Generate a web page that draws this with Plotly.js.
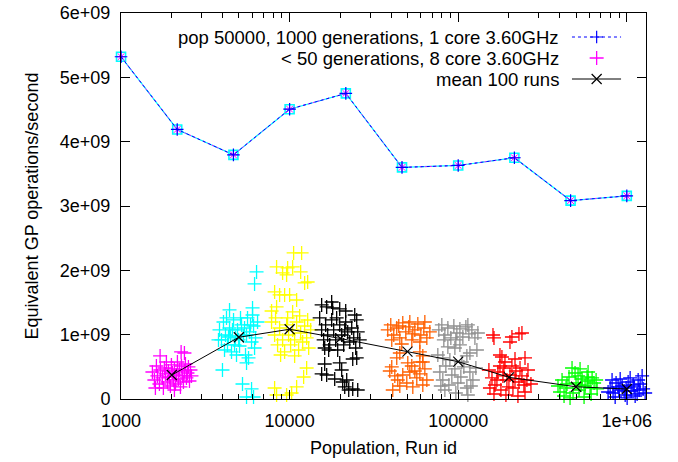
<!DOCTYPE html>
<html><head><meta charset="utf-8">
<script src="https://cdn.plot.ly/plotly-3.0.1.min.js"></script>
<style>html,body{margin:0;padding:0;background:#fff}</style>
</head><body><div id="chart" style="width:678px;height:462px"></div>
<script>
// ---- data ----
const singleCoreX = [1000, 2154, 4642, 10000, 21544, 46416, 100000, 215443, 464159, 1000000];
const singleCoreY = [5.32e9, 4.19e9, 3.795e9, 4.505e9, 4.75e9, 3.60e9, 3.63e9, 3.75e9, 3.084e9, 3.157e9];

const meanX = [2000, 5000, 10000, 20000, 50000, 100000, 200000, 500000, 1000000];
const meanY = [0.373e9, 0.96e9, 1.084e9, 0.94e9, 0.736e9, 0.58e9, 0.337e9, 0.19e9, 0.155e9];

const runs2000X = [1535,1577,1621,1643,1689,1712,1759,1783,1808,1833,1884,1910,1936,1963,1990,2018,2045,2073,2102,2131,2160,2190,2220,2251,2282,2313,2345,2377,2410,2443,2477,2511,2546,2581,2617,1705,2272,2377,1599,1858,2073];
const runs2000Y = [0.42e9,0.295e9,0.513e9,0.358e9,0.233e9,0.451e9,0.327e9,0.171e9,0.482e9,0.389e9,0.264e9,0.435e9,0.342e9,0.202e9,0.529e9,0.404e9,0.295e9,0.467e9,0.233e9,0.373e9,0.575e9,0.311e9,0.451e9,0.187e9,0.513e9,0.358e9,0.264e9,0.435e9,0.544e9,0.327e9,0.404e9,0.498e9,0.28e9,0.451e9,0.358e9,0.669e9,0.731e9,0.715e9,0.171e9,0.575e9,0.14e9];

const runs5000X = [3838,3943,4052,4165,4280,4401,4522,4648,4775,4907,5047,5184,5328,5476,5628,5786,5946,6109,6280,6454,4110,4713,5403,6196,4461,5113,5705,4841,4222,6026,3785,6366,6196,4401,6026,3997,5552,5255,5946,5552,6109,4583,4977,5552,4340,5864];
const runs5000Y = [1.073e9,0.918e9,1.197e9,0.995e9,0.84e9,1.104e9,0.731e9,1.229e9,0.949e9,1.073e9,0.824e9,1.151e9,0.98e9,0.684e9,1.26e9,1.042e9,0.886e9,1.135e9,0.949e9,1.197e9,0.762e9,0.84e9,1.104e9,0.793e9,0.98e9,1.26e9,0.638e9,0.684e9,1.26e9,1.306e9,0.918e9,1.975e9,1.788e9,1.384e9,1.415e9,0.451e9,0.56e9,0.233e9,0.156e9,0.031e9,0.031e9,1.073e9,0.918e9,0.995e9,0.964e9,1.151e9];

const runs10000X = [10563,11782,8369,9085,9730,10418,9598,11626,12279,12794,8146,8723,9340,10000,11005,7815,8369,10418,11467,12794,7815,8146,8484,8723,9085,9340,9598,9863,10137,10418,10710,11005,11310,11626,11947,12279,12619,12972,13332,8841,10710,8256,9730,12619,12111,11005,8146,8369,9598,10277];
const runs10000Y = [2.27e9,2.27e9,2.053e9,1.959e9,2.037e9,2.053e9,1.928e9,1.975e9,1.804e9,1.819e9,1.664e9,1.617e9,1.617e9,1.617e9,1.539e9,1.368e9,1.431e9,1.353e9,1.291e9,1.228e9,1.197e9,0.995e9,0.84e9,1.104e9,0.918e9,0.731e9,1.151e9,0.995e9,0.84e9,1.073e9,0.918e9,1.197e9,0.762e9,1.026e9,0.886e9,1.135e9,0.949e9,0.793e9,1.073e9,0.684e9,0.669e9,1.26e9,1.26e9,0.482e9,0.342e9,0.187e9,0.171e9,0.062e9,0.062e9,0.093e9];

const runs20000X = [17759,15488,16586,18003,19820,21511,24335,25003,15076,15488,15918,16360,16815,17287,17759,18250,18757,19280,19820,20363,20924,21511,22105,22726,23353,24000,24660,25351,26058,17046,19015,21224,16144,16144,19820,23678,25003,15488,16586,18510,20640,21808,21224,23678,25351,20363,22416];
const runs20000Y = [1.508e9,1.462e9,1.431e9,1.415e9,1.4e9,1.368e9,1.306e9,1.229e9,1.26e9,1.073e9,0.918e9,1.151e9,0.995e9,0.84e9,1.229e9,1.073e9,0.918e9,0.762e9,1.151e9,0.995e9,0.84e9,1.197e9,1.042e9,0.886e9,1.104e9,0.949e9,0.793e9,1.042e9,0.918e9,0.762e9,1.26e9,1.073e9,0.793e9,0.544e9,0.56e9,0.622e9,0.638e9,0.389e9,0.373e9,0.311e9,0.264e9,0.295e9,0.187e9,0.156e9,0.14e9,0.451e9,0.14e9];

const runs50000X = [38200,39810,41470,43200,45040,46900,48870,50920,53050,55300,57600,60010,62520,65150,67890,40350,46250,51640,59210,44400,53790,63400,45040,43200,59210,61660,40350,39280,50220,53050,59210,61660,40900,43790,46900,49550,51640,53790,56800,59210,61660,65150,45040,55300,42060,63400];
const runs50000Y = [1.073e9,1.151e9,0.995e9,1.104e9,0.949e9,1.182e9,1.042e9,1.12e9,0.918e9,1.073e9,1.166e9,0.995e9,1.104e9,0.949e9,1.042e9,0.918e9,0.855e9,1.197e9,0.886e9,1.135e9,1.011e9,1.197e9,0.715e9,0.638e9,0.731e9,0.669e9,0.498e9,0.435e9,0.56e9,0.513e9,0.575e9,0.575e9,0.14e9,0.295e9,0.373e9,0.249e9,0.42e9,0.187e9,0.327e9,0.389e9,0.218e9,0.295e9,0.202e9,0.435e9,0.358e9,0.467e9];

const runs100000X = [76740,79960,83350,86820,90430,94230,98170,102340,106560,111020,115700,120540,125650,130820,82180,96830,114100,86820,95570,102340,112560,117340,129100,75700,81060,77840,81060,84470,88040,91680,95570,99540,103680,108030,112560,117340,122200,127300,83350,96830,114100,89250,105120,78880,118900];
const runs100000Y = [1.073e9,1.151e9,0.995e9,1.104e9,0.949e9,1.135e9,1.026e9,1.089e9,0.964e9,1.12e9,1.011e9,1.073e9,0.949e9,1.026e9,0.918e9,0.918e9,1.151e9,0.809e9,0.793e9,0.84e9,0.669e9,0.715e9,0.762e9,0.684e9,0.638e9,0.42e9,0.295e9,0.513e9,0.218e9,0.373e9,0.467e9,0.249e9,0.342e9,0.498e9,0.171e9,0.42e9,0.295e9,0.482e9,0.14e9,0.093e9,0.062e9,0.607e9,0.575e9,0.202e9,0.202e9];

const runs200000X = [160800,163000,208300,229300,238800,202800,176900,181700,217200,249000,189400,152100,158600,165200,172000,179200,186700,194500,202800,211200,220000,229300,238800,249000,259300,270100,163000,191900,226100,255600,154280,176900,208300,232600,169700,199900,217200,245400,184200];
const runs200000Y = [0.995e9,0.949e9,0.964e9,1.011e9,1.026e9,0.886e9,0.684e9,0.653e9,0.622e9,0.638e9,0.575e9,0.451e9,0.327e9,0.218e9,0.42e9,0.14e9,0.482e9,0.295e9,0.373e9,0.171e9,0.435e9,0.264e9,0.358e9,0.109e9,0.451e9,0.233e9,0.078e9,0.062e9,0.047e9,0.295e9,0.171e9,0.513e9,0.513e9,0.482e9,0.295e9,0.187e9,0.311e9,0.218e9,0.358e9];

const runs500000X = [473400,528200,493300,589300,413000,436100,454300,480000,500000,521000,542900,565600,589300,614100,639900,666700,401800,424400,460700,557900,513800,581300,622600,442000,535600,605700,390800,657600];
const runs500000Y = [0.482e9,0.467e9,0.404e9,0.42e9,0.295e9,0.171e9,0.342e9,0.093e9,0.249e9,0.14e9,0.311e9,0.202e9,0.28e9,0.078e9,0.249e9,0.156e9,0.109e9,0.047e9,0.016e9,0.031e9,0.358e9,0.342e9,0.327e9,0.233e9,0.218e9,0.171e9,0.202e9,0.295e9];

const runs1000000X = [796700,829300,863900,900300,938000,978200,1018400,1061200,1105700,1151900,1200000,1250000,817900,913500,1047000,1167800,1233000,853100,1004600,1121000,774500,1285000,964000,1090800,887900,990800,1183900];
const runs1000000Y = [0.171e9,0.093e9,0.249e9,0.14e9,0.202e9,0.062e9,0.264e9,0.124e9,0.187e9,0.078e9,0.233e9,0.156e9,0.295e9,0.311e9,0.327e9,0.295e9,0.358e9,0.031e9,0.016e9,0.047e9,0.109e9,0.093e9,0.124e9,0.218e9,0.187e9,0.171e9,0.14e9];

const clusterColors = ['#ff00ff','#00ffff','#ffff00','#000000','#ff6000','#909090','#ff0000','#00ff00','#0000ff'];

const xTickVals = [1000, 10000, 100000, 1000000];
const xTickText = ['1000', '10000', '100000', '1e+06'];
const xMinorVals = [2000,3000,4000,5000,6000,7000,8000,9000,20000,30000,40000,50000,60000,70000,80000,90000,200000,300000,400000,500000,600000,700000,800000,900000];
const yTickVals = [0, 1e9, 2e9, 3e9, 4e9, 5e9, 6e9];
const yTickText = ['0', '1e+09', '2e+09', '3e+09', '4e+09', '5e+09', '6e+09'];

const legendLabels = ['pop 50000, 1000 generations, 1 core 3.60GHz', '< 50 generations, 8 core 3.60GHz', 'mean 100 runs'];

// ---- traces ----
const clustersX = [runs2000X, runs5000X, runs10000X, runs20000X, runs50000X, runs100000X, runs200000X, runs500000X, runs1000000X];
const clustersY = [runs2000Y, runs5000Y, runs10000Y, runs20000Y, runs50000Y, runs100000Y, runs200000Y, runs500000Y, runs1000000Y];

const traces = [];
traces.push({x: singleCoreX, y: singleCoreY, mode: 'lines+markers', cliponaxis: false,
  line: {color: '#00ffff', width: 1.2},
  marker: {symbol: 'square-open', size: 9, color: '#00ffff', line: {color: '#00ffff', width: 1.6}}});
traces.push({x: singleCoreX, y: singleCoreY, mode: 'lines+markers', cliponaxis: false,
  line: {color: '#ff00ff', width: 1, dash: '2px,3px'},
  marker: {symbol: 'asterisk-open', size: 8, color: '#ff00ff', line: {color: '#ff00ff', width: 1}}});
traces.push({x: singleCoreX, y: singleCoreY, mode: 'lines+markers', cliponaxis: false,
  line: {color: '#0000ff', width: 1, dash: '3px,3px'},
  marker: {symbol: 'cross-thin-open', size: 9, color: '#0000ff', line: {color: '#0000ff', width: 1.2}}});

for (let i = 0; i < clustersX.length; i++) {
  traces.push({x: clustersX[i], y: clustersY[i], mode: 'markers', cliponaxis: false,
    marker: {symbol: 'cross-thin-open', size: 10, color: clusterColors[i], line: {color: clusterColors[i], width: 1.3}}});
}

traces.push({x: meanX, y: meanY, mode: 'lines+markers', cliponaxis: false,
  line: {color: '#000000', width: 1},
  marker: {symbol: 'x-thin-open', size: 10, color: '#000', line: {color: '#000', width: 1.2}}});

// legend samples on an overlay axis (paper-like 0..1)
const lgY = [0.9378, 0.8834, 0.829];
const lgX0 = 0.8590, lgX1 = 0.9525, lgXm = 0.906;
traces.push({x: [lgX0, lgX1], y: [lgY[0], lgY[0]], xaxis: 'x2', yaxis: 'y2', mode: 'lines', line: {color: '#0000ff', width: 1, dash: '3px,3px'}});
traces.push({x: [lgXm], y: [lgY[0]], xaxis: 'x2', yaxis: 'y2', mode: 'markers', marker: {symbol: 'cross-thin-open', size: 9, color: '#0000ff', line: {color: '#0000ff', width: 1.2}}});
traces.push({x: [lgXm], y: [lgY[1]], xaxis: 'x2', yaxis: 'y2', mode: 'markers', marker: {symbol: 'cross-thin-open', size: 10, color: '#ff00ff', line: {color: '#ff00ff', width: 1.3}}});
traces.push({x: [lgX0, lgX1], y: [lgY[2], lgY[2]], xaxis: 'x2', yaxis: 'y2', mode: 'lines', line: {color: '#000', width: 1}});
traces.push({x: [lgXm], y: [lgY[2]], xaxis: 'x2', yaxis: 'y2', mode: 'markers', marker: {symbol: 'x-thin-open', size: 10, color: '#000', line: {color: '#000', width: 1.2}}});

const font = {family: 'Liberation Sans, Arial, sans-serif', size: 18, color: '#000'};
const legendFont = {family: 'Liberation Sans, Arial, sans-serif', size: 18.5, color: '#000'};

const layout = {
  width: 678, height: 462,
  margin: {l: 121, r: 32, t: 13, b: 63},
  paper_bgcolor: '#fff', plot_bgcolor: '#fff',
  font: font, showlegend: false,
  xaxis: {type: 'log', range: [Math.log10(999.5), Math.log10(1.3e6)], tickmode: 'array', tickvals: xTickVals, ticktext: xTickText,
    ticks: 'inside', ticklen: 9, tickwidth: 1, tickcolor: '#000', showline: true, linecolor: '#000', linewidth: 1,
    mirror: 'ticks', showgrid: false, zeroline: false, ticklabelstandoff: 5,
    minor: {tickmode: 'array', tickvals: xMinorVals, ticks: 'inside', ticklen: 5, tickwidth: 1, tickcolor: '#000', showgrid: false},
    title: {text: 'Population, Run id', font: font, standoff: 11}},
  yaxis: {range: [0, 6e9], tickmode: 'array', tickvals: yTickVals, ticktext: yTickText,
    ticks: 'inside', ticklen: 9, tickwidth: 1, tickcolor: '#000', showline: true, linecolor: '#000', linewidth: 1,
    mirror: 'ticks', showgrid: false, zeroline: false, ticklabelstandoff: 6,
    title: {text: 'Equivalent GP operations/second', font: font, standoff: 16}},
  xaxis2: {overlaying: 'x', anchor: 'y2', range: [0, 1], visible: false, fixedrange: true},
  yaxis2: {overlaying: 'y', anchor: 'x2', range: [0, 1], visible: false, fixedrange: true},
  annotations: legendLabels.map((t, i) => ({text: t, xref: 'paper', yref: 'paper', x: 0.838, y: lgY[i],
    xanchor: 'right', yanchor: 'middle', showarrow: false, font: legendFont}))
};

Plotly.newPlot('chart', traces, layout, {staticPlot: true, displayModeBar: false});
</script></body></html>
